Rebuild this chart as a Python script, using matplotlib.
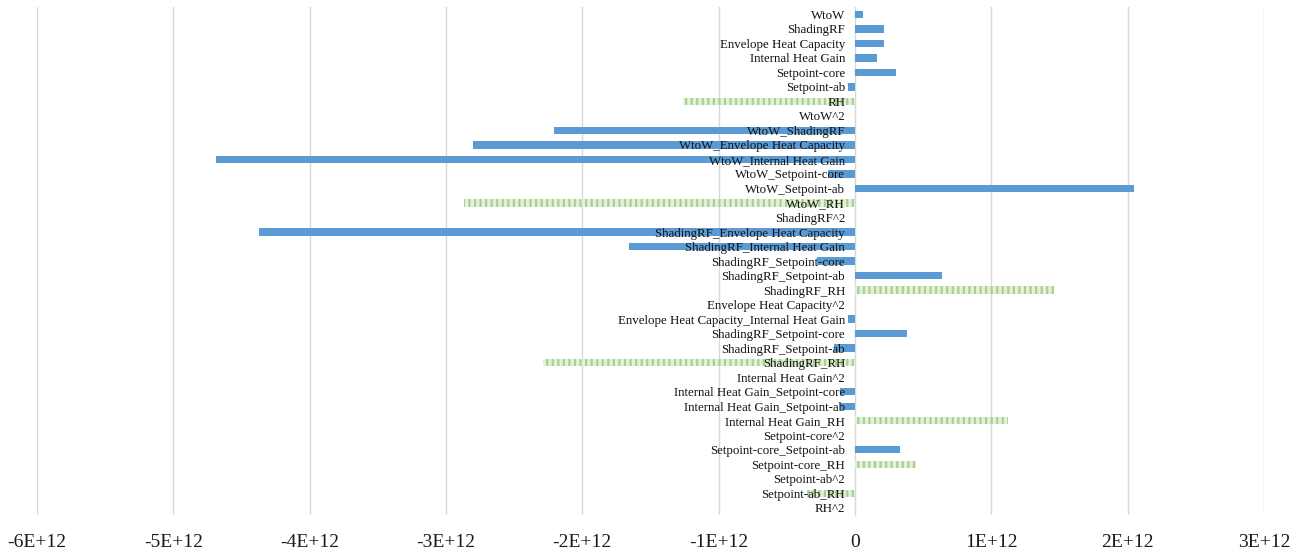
import numpy as np
import matplotlib.pyplot as plt

# regression terms, top to bottom
terms = ['WtoW', 'ShadingRF', 'Envelope Heat Capacity', 'Internal Heat Gain',
         'Setpoint-core', 'Setpoint-ab', 'RH', 'WtoW^2', 'WtoW_ShadingRF',
         'WtoW_Envelope Heat Capacity', 'WtoW_Internal Heat Gain',
         'WtoW_Setpoint-core', 'WtoW_Setpoint-ab', 'WtoW_RH', 'ShadingRF^2',
         'ShadingRF_Envelope Heat Capacity', 'ShadingRF_Internal Heat Gain',
         'ShadingRF_Setpoint-core', 'ShadingRF_Setpoint-ab', 'ShadingRF_RH',
         'Envelope Heat Capacity^2', 'Envelope Heat Capacity_Internal Heat Gain',
         'ShadingRF_Setpoint-core', 'ShadingRF_Setpoint-ab', 'ShadingRF_RH',
         'Internal Heat Gain^2', 'Internal Heat Gain_Setpoint-core',
         'Internal Heat Gain_Setpoint-ab', 'Internal Heat Gain_RH',
         'Setpoint-core^2', 'Setpoint-core_Setpoint-ab', 'Setpoint-core_RH',
         'Setpoint-ab^2', 'Setpoint-ab_RH', 'RH^2']

# coefficients (x 1E+12)
coef = [0.06, 0.21, 0.21, 0.16, 0.30, -0.05, -1.26, 0.0, -2.21,
        -2.80, -4.69, -0.20, 2.05, -2.87, 0.0,
        -4.37, -1.66, -0.28, 0.64, 1.46,
        0.0, -0.05, 0.38, -0.15, -2.29,
        0.0, -0.11, -0.11, 1.12,
        0.0, 0.33, 0.45, 0.0, -0.35, 0.0]

ticks = [-6, -5, -4, -3, -2, -1, 0, 1, 2, 3]
tick_labels = ['-6E+12', '-5E+12', '-4E+12', '-3E+12', '-2E+12', '-1E+12',
               '0', '1E+12', '2E+12', '3E+12']

blue = '#5b9bd5'
green = '#a9d18e'

plt.rcParams['font.family'] = ['Liberation Serif', 'DejaVu Serif']
plt.rcParams['hatch.linewidth'] = 1.6

fig = plt.figure(figsize=(13.03, 5.49), dpi=100)
ax = fig.add_axes([0.0284, 0.062, 0.9416, 0.925])

y = np.arange(len(terms))
vals = np.array(coef) * 1e12
for yi, name, v in zip(y, terms, vals):
    if 'RH' in name:
        ax.barh(yi, v, height=0.5, color='#e4f0dc', edgecolor=green,
                hatch='|||', linewidth=0, zorder=2)
    else:
        ax.barh(yi, v, height=0.5, color=blue, linewidth=0, zorder=2)

ax.set_ylim(len(terms) - 0.5, -0.5)
ax.set_xlim(-6e12, 3e12)
ax.set_xticks(np.array(ticks) * 1e12)
ax.set_xticklabels(tick_labels, fontsize=14, color='#1a1a1a')
ax.grid(axis='x', color='#d9d9d9', linewidth=1)
ax.set_axisbelow(True)

# category labels sit on the zero line, on top of the bars
ax.spines['left'].set_position(('data', 0))
ax.spines['left'].set_color('#d9d9d9')
ax.spines['left'].set_zorder(1)
for s in ['top', 'right', 'bottom']:
    ax.spines[s].set_visible(False)
ax.set_yticks(y)
ax.set_yticklabels(terms, fontsize=9.3, color='#111111')
ax.tick_params(axis='y', length=0, pad=7)
ax.tick_params(axis='x', length=0, pad=14)
ax.yaxis.set_zorder(5)

fig.savefig('out.png', dpi=100)
